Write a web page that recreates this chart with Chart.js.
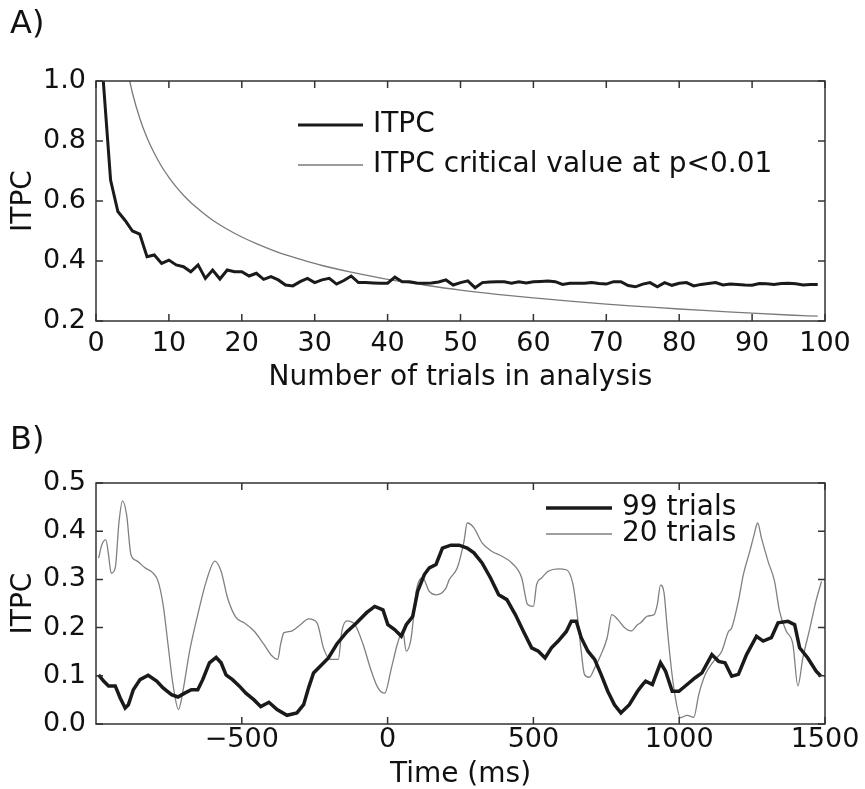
<!DOCTYPE html>
<html lang="en">

<head>
  <meta charset="UTF-8" />
  <title>ITPC and number of trials</title>
  <script src="https://cdn.jsdelivr.net/npm/chart.js"></script>
  <style>
    body {
      margin: 0;
      background: #fff;
      font-family: "DejaVu Sans", sans-serif;
    }

    .panel {
      position: absolute;
      left: 0;
      width: 865px;
    }

    .tag {
      position: absolute;
      left: 10px;
      font-size: 32px;
      color: #111;
      z-index: 2;
    }
  </style>
</head>

<body>
  <div class="panel" style="top:0; height:400px"><canvas id="chartA"></canvas></div>
  <div class="panel" style="top:400px; height:389px"><canvas id="chartB"></canvas></div>
  <div class="tag" style="top:3px">A)</div>
  <div class="tag" style="top:419px">B)</div>

  <script>
    // ---- Panel A: ITPC as a function of trial count ----
    const trialCounts = [1, 2, 3, 4, 5, 6, 7, 8, 9, 10, 11, 12, 13, 14, 15, 16, 17, 18, 19, 20,
      21, 22, 23, 24, 25, 26, 27, 28, 29, 30, 31, 32, 33, 34, 35, 36, 37, 38, 39, 40,
      41, 42, 43, 44, 45, 46, 47, 48, 49, 50, 51, 52, 53, 54, 55, 56, 57, 58, 59, 60,
      61, 62, 63, 64, 65, 66, 67, 68, 69, 70, 71, 72, 73, 74, 75, 76, 77, 78, 79, 80,
      81, 82, 83, 84, 85, 86, 87, 88, 89, 90, 91, 92, 93, 94, 95, 96, 97, 98, 99];
    const itpcByTrials = [1.00, 0.67, 0.565, 0.535, 0.50, 0.49, 0.414, 0.42, 0.392, 0.403,
      0.387, 0.381, 0.364, 0.387, 0.342, 0.37, 0.34, 0.37, 0.364, 0.364,
      0.35, 0.359, 0.339, 0.348, 0.337, 0.32, 0.317, 0.331, 0.342, 0.328,
      0.337, 0.342, 0.323, 0.335, 0.35, 0.328, 0.328, 0.327, 0.326, 0.326,
      0.346, 0.331, 0.331, 0.327, 0.326, 0.327, 0.33, 0.337, 0.32, 0.328,
      0.334, 0.311, 0.328, 0.33, 0.331, 0.331, 0.326, 0.331, 0.327, 0.331,
      0.332, 0.333, 0.331, 0.322, 0.326, 0.326, 0.326, 0.328, 0.325, 0.323,
      0.331, 0.331, 0.318, 0.314, 0.323, 0.328, 0.314, 0.328, 0.319, 0.326,
      0.328, 0.317, 0.322, 0.325, 0.328, 0.32, 0.323, 0.322, 0.32, 0.319,
      0.325, 0.324, 0.322, 0.325, 0.326, 0.324, 0.32, 0.322, 0.322];
    const critTrials = [4, 5, 6, 7, 8, 9, 10, 11, 12, 13, 14, 15, 16, 18, 20, 22, 25, 28, 31, 35,
      40, 45, 50, 55, 60, 65, 70, 75, 80, 85, 90, 95, 99];
    const critValues = [1.073, 0.960, 0.876, 0.811, 0.759, 0.715, 0.679, 0.647, 0.619, 0.595,
      0.574, 0.554, 0.536, 0.506, 0.480, 0.458, 0.429, 0.406, 0.385, 0.363,
      0.339, 0.320, 0.303, 0.289, 0.277, 0.266, 0.256, 0.248, 0.240, 0.233,
      0.226, 0.220, 0.216];
    const xTicksA = [0, 10, 20, 30, 40, 50, 60, 70, 80, 90, 100];
    const yTicksA = [0.2, 0.4, 0.6, 0.8, 1.0];

    // ---- Panel B: ITPC over time ----
    const time99 = [-991, -974, -957, -934, -917, -900, -889, -872, -849, -821, -792, -770, -741, -719,
      -696, -673, -651, -634, -611, -588, -571, -554, -532, -509, -486, -458, -435, -407, -379,
      -345, -311, -288, -271, -254, -231, -203, -174, -140, -106, -72, -44, -16, 1, 24, 47, 64,
      86, 103, 126, 143, 166, 188, 217, 245, 273, 296, 324, 353, 381, 409, 438, 466, 494, 517,
      540, 562, 585, 613, 630, 647, 664, 687, 710, 732, 755, 778, 800, 829, 857, 875, 885, 908,
      936, 953, 976, 999, 1027, 1055, 1078, 1112, 1135, 1157, 1180, 1203, 1231, 1265, 1288,
      1316, 1339, 1373, 1396, 1413, 1441, 1469, 1486];
    const itpc99 = [0.102, 0.089, 0.079, 0.079, 0.054, 0.033, 0.040, 0.071, 0.092, 0.101, 0.089, 0.075, 0.061, 0.056,
      0.064, 0.071, 0.071, 0.092, 0.127, 0.138, 0.127, 0.102, 0.092, 0.079, 0.064, 0.050, 0.036, 0.045, 0.030,
      0.018, 0.023, 0.040, 0.075, 0.106, 0.120, 0.137, 0.166, 0.191, 0.210, 0.231, 0.244, 0.237, 0.206, 0.196, 0.182, 0.206,
      0.223, 0.275, 0.310, 0.324, 0.331, 0.365, 0.371, 0.371, 0.365, 0.355, 0.334, 0.303, 0.268, 0.258, 0.227, 0.192, 0.158, 0.151,
      0.137, 0.158, 0.172, 0.192, 0.213, 0.213, 0.179, 0.151, 0.134, 0.103, 0.068, 0.040, 0.023, 0.040, 0.068, 0.082, 0.089, 0.082,
      0.127, 0.110, 0.068, 0.068, 0.082, 0.096, 0.106, 0.144, 0.130, 0.127, 0.099, 0.103, 0.144, 0.182, 0.172,
      0.179, 0.210, 0.213, 0.206, 0.158, 0.137, 0.110, 0.099];
    const time20 = [-991, -980, -966, -957, -948, -934, -921, -909, -895, -880, -861, -832, -804, -787,
      -770, -753, -736, -717, -702, -679, -651, -622, -592, -571, -549, -520, -492, -458, -424,
      -396, -377, -367, -356, -333, -299, -271, -242, -220, -197, -169, -157, -140, -112, -84,
      -56, -33, -10, 13, 35, 52, 64, 81, 98, 120, 143, 166, 200, 211, 239, 262, 273, 296, 324,
      358, 392, 426, 460, 480, 500, 511, 528, 551, 585, 613, 636, 653, 664, 675, 692, 710, 732,
      753, 769, 789, 812, 835, 857, 868, 891, 914, 925, 936, 948, 959, 974, 987, 1004, 1027,
      1050, 1067, 1089, 1118, 1146, 1169, 1180, 1203, 1220, 1242, 1257, 1269, 1282, 1305, 1327,
      1344, 1367, 1390, 1407, 1424, 1446, 1469, 1488];
    const itpc20 = [0.344, 0.372, 0.382, 0.351, 0.313, 0.324, 0.420, 0.463, 0.434, 0.351, 0.339, 0.324, 0.313, 0.296,
      0.248, 0.165, 0.082, 0.030, 0.068, 0.151, 0.227, 0.296, 0.338, 0.317, 0.262, 0.221, 0.210, 0.193, 0.165,
      0.141, 0.134, 0.165, 0.189, 0.192, 0.206, 0.218, 0.210, 0.158, 0.134, 0.134, 0.192, 0.214, 0.206, 0.165,
      0.110, 0.075, 0.064, 0.116, 0.169, 0.193, 0.151, 0.179, 0.275, 0.303, 0.275, 0.268, 0.282, 0.299, 0.324, 0.379, 0.417, 0.407, 0.376,
      0.358, 0.348, 0.334, 0.303, 0.248, 0.244, 0.289, 0.303, 0.317, 0.322, 0.320, 0.289, 0.213, 0.151, 0.103, 0.097, 0.116, 0.144,
      0.179, 0.227, 0.217, 0.200, 0.193, 0.206, 0.210, 0.224, 0.227, 0.248, 0.288, 0.272, 0.199, 0.110, 0.054, 0.013, 0.018,
      0.014, 0.061, 0.102, 0.130, 0.151, 0.192, 0.199, 0.255, 0.310, 0.358, 0.393, 0.417, 0.386, 0.337, 0.296,
      0.234, 0.193, 0.165, 0.079, 0.137, 0.193, 0.255, 0.296];
    const xTicksB = [-500, 0, 500, 1000, 1500];
    const yTicksB = [0.1, 0.2, 0.3, 0.4, 0.5, 0.0];

    const ink = '#111';
    const tickFont = { family: 'DejaVu Sans', size: 27 };
    const titleFont = { family: 'DejaVu Sans', size: 28 };

    const pairs = (xs, ys) => xs.map((v, i) => ({ x: v, y: ys[i] }));

    // box around the plot with short inward ticks on all four sides
    const frameTicks = {
      id: 'frameTicks',
      afterDatasetsDraw(chart) {
        const { ctx, chartArea: a, scales: { x, y } } = chart;
        const len = 7;
        ctx.save();
        ctx.strokeStyle = '#333';
        ctx.lineWidth = 1.5;
        ctx.strokeRect(a.left, a.top, a.right - a.left, a.bottom - a.top);
        ctx.beginPath();
        x.ticks.forEach(t => {
          const px = x.getPixelForValue(t.value);
          ctx.moveTo(px, a.bottom); ctx.lineTo(px, a.bottom - len);
          ctx.moveTo(px, a.top); ctx.lineTo(px, a.top + len);
        });
        y.ticks.forEach(t => {
          const py = y.getPixelForValue(t.value);
          ctx.moveTo(a.left, py); ctx.lineTo(a.left + len, py);
          ctx.moveTo(a.right, py); ctx.lineTo(a.right - len, py);
        });
        ctx.stroke();
        ctx.restore();
      }
    };

    // legend drawn inside the plot area
    const insideLegend = {
      id: 'insideLegend',
      afterDraw(chart, args, opts) {
        const { ctx } = chart;
        ctx.save();
        ctx.font = '28px "DejaVu Sans"';
        ctx.fillStyle = ink;
        ctx.textBaseline = 'middle';
        chart.data.datasets.forEach((ds, i) => {
          const yy = opts.y + i * opts.rowGap;
          ctx.strokeStyle = ds.borderColor;
          ctx.lineWidth = ds.borderWidth;
          ctx.beginPath();
          ctx.moveTo(opts.x, yy);
          ctx.lineTo(opts.x + opts.lineLen, yy);
          ctx.stroke();
          ctx.fillText(ds.label, opts.x + opts.lineLen + 10, yy);
        });
        ctx.restore();
      }
    };

    function makeScales(cfg) {
      return {
        x: {
          type: 'linear', min: cfg.xMin, max: cfg.xMax,
          afterBuildTicks: s => { s.ticks = cfg.xTicks.map(v => ({ value: v })); },
          afterFit: s => { s.height = cfg.xHeight; },
          grid: { display: false, drawTicks: false },
          border: { display: false },
          ticks: {
            color: ink, font: tickFont, padding: cfg.xPad, autoSkip: false, maxRotation: 0,
            callback: v => v < 0 ? '\u2212' + Math.abs(v) : String(v)
          },
          title: { display: true, text: cfg.xTitle, color: ink, font: titleFont, padding: { top: 0, bottom: cfg.xTitlePad } }
        },
        y: {
          type: 'linear', min: cfg.yMin, max: cfg.yMax,
          afterBuildTicks: s => { s.ticks = cfg.yTicks.map(v => ({ value: v })); },
          afterFit: s => { s.width = 96; },
          grid: { display: false, drawTicks: false },
          border: { display: false },
          ticks: { color: ink, font: tickFont, padding: 10, autoSkip: false, callback: v => v.toFixed(1) },
          title: { display: true, text: 'ITPC', color: ink, font: titleFont, padding: { top: 7, bottom: 0 } }
        }
      };
    }

    new Chart(document.getElementById('chartA'), {
      type: 'line',
      data: {
        datasets: [{
          label: 'ITPC',
          data: pairs(trialCounts, itpcByTrials),
          borderColor: '#1a1a1a', borderWidth: 3, pointRadius: 0, tension: 0
        }, {
          label: 'ITPC critical value at p<0.01',
          data: pairs(critTrials, critValues),
          borderColor: '#7a7a7a', borderWidth: 1.3, pointRadius: 0, cubicInterpolationMode: 'monotone'
        }]
      },
      options: {
        responsive: true, maintainAspectRatio: false, animation: false,
        layout: { padding: { top: 81, right: 40, left: 0, bottom: 0 } },
        plugins: {
          legend: { display: false }, tooltip: { enabled: false },
          insideLegend: { x: 298, y: 125, rowGap: 40, lineLen: 65 }
        },
        scales: makeScales({
          xMin: 0, xMax: 100, xTicks: xTicksA, xHeight: 79, xPad: 7, xTitle: 'Number of trials in analysis', xTitlePad: 5,
          yMin: 0.2, yMax: 1.0, yTicks: yTicksA
        })
      },
      plugins: [frameTicks, insideLegend]
    });

    new Chart(document.getElementById('chartB'), {
      type: 'line',
      data: {
        datasets: [{
          label: '99 trials',
          data: pairs(time99, itpc99),
          borderColor: '#1a1a1a', borderWidth: 3.5, pointRadius: 0, tension: 0
        }, {
          label: '20 trials',
          data: pairs(time20, itpc20),
          borderColor: '#808080', borderWidth: 1.3, pointRadius: 0, cubicInterpolationMode: 'monotone'
        }]
      },
      options: {
        responsive: true, maintainAspectRatio: false, animation: false,
        layout: { padding: { top: 83, right: 40, left: 0, bottom: 0 } },
        plugins: {
          legend: { display: false }, tooltip: { enabled: false },
          insideLegend: { x: 546, y: 108, rowGap: 26, lineLen: 66 }
        },
        scales: makeScales({
          xMin: -1000, xMax: 1500, xTicks: xTicksB, xHeight: 65, xPad: 0, xTitle: 'Time (ms)', xTitlePad: -3,
          yMin: 0, yMax: 0.5, yTicks: yTicksB
        })
      },
      plugins: [frameTicks, insideLegend]
    });
  </script>
</body>

</html>
